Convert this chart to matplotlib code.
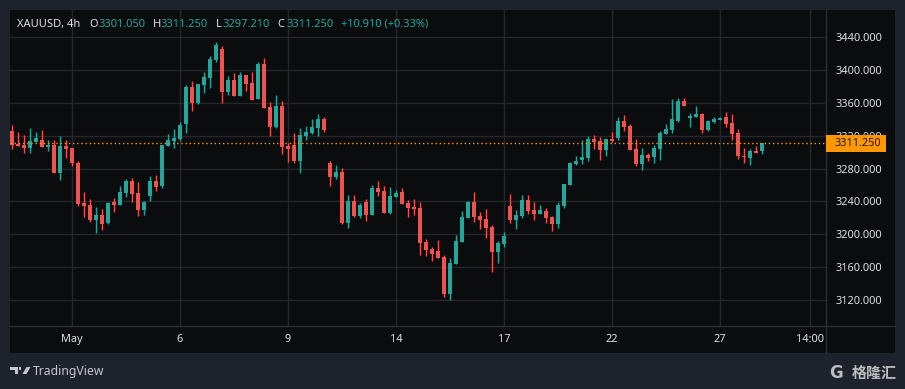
import matplotlib
matplotlib.use("Agg")
import matplotlib.pyplot as plt
from matplotlib.patches import Rectangle, Polygon
from matplotlib.lines import Line2D
from matplotlib.transforms import Bbox

plt.rcParams['font.family'] = ['Noto Sans', 'DejaVu Sans']

W, H = 905, 389

# XAUUSD 4h candles
opens = [3325.6, 3310.2, 3308.6, 3305.3, 3312.2, 3314.7, 3306.2, 3308.6, 3274.5, 3307.4,
         3304.9, 3286.7, 3238.0, 3235.6, 3217.4, 3223.4, 3213.7, 3239.2, 3235.6, 3250.2,
         3264.8, 3250.2, 3229.5, 3246.5, 3264.8, 3258.7, 3307.4, 3313.5, 3315.9, 3334.1,
         3379.2, 3359.7, 3381.6, 3390.1, 3412.0, 3425.4, 3373.1, 3387.7, 3368.2, 3393.8,
         3384.0, 3364.6, 3407.2, 3354.8, 3330.5, 3356.0, 3307.4, 3308.6, 3289.1, 3319.6,
         3323.2, 3329.3, 3340.2, 3286.7, 3269.7, 3275.7, 3213.7, 3240.5, 3222.2, 3239.2,
         3223.4, 3256.3, 3252.6, 3225.8, 3245.3, 3251.4, 3238.0, 3233.2, 3231.9, 3190.6,
         3182.0, 3179.6, 3172.3, 3127.3, 3163.8, 3190.6, 3219.8, 3239.2, 3222.2, 3218.6,
         3208.8, 3178.4, 3188.2, 3234.4, 3217.3, 3222.2, 3241.7, 3229.5, 3224.6, 3228.3,
         3221.0, 3212.5, 3234.4, 3259.9, 3285.5, 3290.3, 3292.8, 3315.9, 3313.5, 3302.5,
         3315.9, 3317.1, 3337.8, 3331.7, 3303.7, 3285.5, 3296.4, 3294.0, 3303.7, 3321.9,
         3326.8, 3337.8, 3362.1, 3341.4, 3342.7, 3346.3, 3326.8, 3336.6, 3339.0, 3342.7,
         3335.4, 3323.2, 3295.2, 3292.8, 3301.3, 3301.05]
highs = [3332.9, 3324.4, 3320.8, 3329.3, 3324.4, 3326.8, 3314.7, 3314.7, 3319.6, 3314.7,
         3304.9, 3289.1, 3251.4, 3242.9, 3233.2, 3230.7, 3239.2, 3244.1, 3258.7, 3267.2,
         3268.4, 3263.6, 3240.4, 3270.9, 3272.1, 3308.6, 3322.0, 3328.1, 3336.6, 3381.6,
         3386.5, 3382.8, 3397.4, 3416.9, 3433.9, 3429.0, 3392.5, 3396.2, 3397.4, 3393.8,
         3397.4, 3409.6, 3414.5, 3360.9, 3369.4, 3362.1, 3311.0, 3323.2, 3329.3, 3331.7,
         3340.2, 3346.3, 3342.6, 3289.1, 3284.3, 3280.6, 3247.8, 3247.8, 3238.0, 3242.9,
         3259.9, 3264.8, 3258.7, 3257.5, 3253.8, 3256.3, 3241.7, 3242.9, 3239.2, 3194.2,
         3184.5, 3193.0, 3174.7, 3171.1, 3199.1, 3228.3, 3240.5, 3251.4, 3227.1, 3230.7,
         3211.3, 3191.8, 3202.7, 3249.0, 3229.5, 3247.8, 3247.8, 3239.2, 3235.6, 3232.0,
         3222.2, 3239.2, 3261.1, 3287.9, 3295.2, 3314.7, 3319.6, 3320.8, 3318.3, 3315.9,
         3324.4, 3342.7, 3345.1, 3334.1, 3315.9, 3304.9, 3298.9, 3308.6, 3325.6, 3334.1,
         3364.6, 3365.8, 3365.8, 3347.5, 3356.0, 3347.5, 3339.0, 3342.7, 3342.7, 3348.7,
         3346.3, 3328.1, 3304.9, 3303.7, 3307.4, 3311.25]
lows = [3303.7, 3307.8, 3298.9, 3298.9, 3312.2, 3306.2, 3301.7, 3274.5, 3266.0, 3292.8,
        3283.0, 3234.4, 3221.0, 3214.9, 3201.5, 3205.2, 3212.5, 3227.1, 3235.6, 3245.3,
        3239.2, 3222.2, 3223.4, 3240.4, 3252.6, 3256.3, 3307.4, 3304.9, 3313.5, 3323.2,
        3350.0, 3358.5, 3371.9, 3377.9, 3409.6, 3359.7, 3369.4, 3368.2, 3368.2, 3374.3,
        3363.3, 3364.6, 3353.6, 3319.5, 3329.3, 3297.6, 3287.9, 3286.7, 3274.5, 3314.7,
        3322.0, 3319.6, 3324.4, 3258.7, 3267.2, 3212.5, 3207.6, 3221.0, 3219.8, 3216.1,
        3223.4, 3246.5, 3225.8, 3224.6, 3245.3, 3236.8, 3221.0, 3223.4, 3174.7, 3173.5,
        3167.4, 3171.1, 3123.6, 3120.0, 3163.8, 3190.6, 3219.8, 3214.9, 3206.4, 3195.4,
        3154.1, 3165.0, 3184.5, 3213.7, 3206.4, 3219.8, 3224.6, 3217.3, 3224.6, 3213.7,
        3204.0, 3207.6, 3231.9, 3259.9, 3284.3, 3285.5, 3289.1, 3303.7, 3290.3, 3295.2,
        3312.2, 3314.7, 3325.6, 3302.5, 3283.0, 3278.2, 3289.1, 3286.7, 3290.3, 3321.9,
        3323.2, 3336.6, 3356.0, 3330.5, 3342.7, 3323.2, 3325.6, 3335.4, 3339.0, 3330.5,
        3314.7, 3291.6, 3286.7, 3284.3, 3298.9, 3297.21]
closes = [3308.6, 3307.8, 3305.3, 3313.5, 3317.5, 3306.2, 3308.6, 3274.5, 3307.4, 3303.7,
          3286.7, 3236.8, 3234.4, 3217.4, 3223.4, 3212.5, 3238.0, 3235.6, 3251.4, 3264.8,
          3249.0, 3229.5, 3239.2, 3264.8, 3257.5, 3308.6, 3314.7, 3317.1, 3332.9, 3379.2,
          3359.7, 3382.8, 3391.3, 3413.2, 3430.3, 3373.1, 3387.7, 3368.2, 3393.8, 3382.8,
          3363.3, 3407.2, 3353.6, 3330.5, 3356.0, 3306.2, 3303.7, 3289.1, 3320.8, 3324.4,
          3330.5, 3340.2, 3326.8, 3269.7, 3275.7, 3213.7, 3240.5, 3222.2, 3235.6, 3223.4,
          3256.3, 3251.4, 3225.8, 3246.5, 3250.2, 3236.8, 3231.9, 3230.7, 3189.4, 3180.8,
          3176.0, 3171.1, 3127.3, 3165.0, 3191.8, 3221.0, 3239.2, 3221.0, 3217.3, 3207.6,
          3178.4, 3189.4, 3197.9, 3217.3, 3223.4, 3241.7, 3228.3, 3224.6, 3229.5, 3219.8,
          3212.5, 3235.6, 3261.1, 3286.7, 3289.1, 3294.0, 3315.9, 3312.2, 3302.5, 3315.9,
          3313.5, 3337.8, 3330.5, 3302.5, 3285.5, 3296.4, 3292.8, 3304.9, 3323.2, 3328.1,
          3340.2, 3362.1, 3356.0, 3343.9, 3346.3, 3326.8, 3337.8, 3340.2, 3341.4, 3334.1,
          3321.9, 3295.2, 3294.0, 3301.3, 3298.9, 3311.25]

price_ticks = [3120, 3160, 3200, 3240, 3280, 3320, 3360, 3400, 3440]
time_ticks = [10, 28, 46, 64, 82, 100, 118, 133]     # bar index of each time label
time_labels = ["May", "6", "9", "14", "17", "22", "27", "14:00"]
last_price = 3311.25
symbol = "XAUUSD, 4h"
ohlc_names = ["O", "H", "L", "C"]
ohlc_values = ["3301.050", "3311.250", "3297.210", "3311.250"]
change_text = "+10.910 (+0.33%)"

FRAME = "#1e222d"
BG = "#0b0c0e"
GRID = "#25272c"
SEP = "#2c2f37"
UP = "#26a69a"
DOWN = "#ef5350"
TXT = "#dcdee5"
ORANGE = "#ff9800"


def fx(px):
    return px / W


def fy(py):
    return 1 - py / H


fig = plt.figure(figsize=(W / 100, H / 100), dpi=100, facecolor=FRAME)

# dark panel behind chart + both axes
fig.patches.append(Rectangle((fx(10), fy(353)), fx(895) - fx(10), fy(10) - fy(353),
                             transform=fig.transFigure, facecolor=BG, edgecolor='none', zorder=-5))

ax = fig.add_axes([fx(10), fy(326), fx(826) - fx(10), fy(10) - fy(326)])
ax.set_facecolor(BG)

n = len(opens)
xs = list(range(n))
cols = [UP if c >= o else DOWN for o, c in zip(opens, closes)]
ax.vlines(xs, lows, highs, colors=cols, linewidth=1, zorder=3)
bottoms = [min(o, c) for o, c in zip(opens, closes)]
heights = [max(abs(c - o), 0.9) for o, c in zip(opens, closes)]
ax.bar(xs, heights, bottom=bottoms, width=0.8, color=cols, linewidth=0, zorder=4)

# last price dotted line
ax.axhline(last_price, color=ORANGE, linewidth=1, linestyle=(0, (1, 2)), zorder=5)

ax.set_xlim(-0.333, 135.667)
ax.set_ylim(3088.4, 3472.85)

ax.set_yticks(price_ticks)
ax.set_yticklabels([f"{p:.3f}" for p in price_ticks])
ax.yaxis.tick_right()
ax.set_xticks(time_ticks)
ax.set_xticklabels(time_labels)
ax.tick_params(axis='y', length=0, pad=7, labelsize=7.9, labelcolor=TXT)
ax.tick_params(axis='x', length=0, pad=6, labelsize=7.9, labelcolor=TXT)
ax.grid(True, color=GRID, linewidth=1)
ax.set_axisbelow(True)

# the 3320 label sits half under the orange price tag: show only its upper part
clip = Bbox.from_extents(820, H - 135, W, H)
for lab in ax.get_yticklabels():
    if lab.get_text() == "3320.000":
        lab.set_clip_box(clip)
        lab.set_clip_on(True)

for s in ['left', 'top']:
    ax.spines[s].set_visible(False)
for s in ['right', 'bottom']:
    ax.spines[s].set_color(SEP)
    ax.spines[s].set_linewidth(1)

# separators continued through the axis areas
fig.lines.append(Line2D([fx(826), fx(895)], [fy(326), fy(326)], transform=fig.transFigure,
                        color=SEP, linewidth=1))
fig.lines.append(Line2D([fx(826), fx(826)], [fy(326), fy(353)], transform=fig.transFigure,
                        color=SEP, linewidth=1))

# last price label
fig.patches.append(Rectangle((fx(826), fy(151.5)), fx(886) - fx(826), fy(135) - fy(151.5),
                             transform=fig.transFigure, facecolor=ORANGE, edgecolor='none', zorder=2))
fig.text(fx(835), fy(143.5), f"{last_price:.3f}", fontsize=7.9, color="#131722",
         ha='left', va='center', zorder=3)

# header legend
hy = fy(24.5)
fig.text(fx(17), hy, symbol, fontsize=8, color=TXT, fontweight='bold', va='center')
letter_x = [89, 152.5, 216, 277.5]
value_x = [98.5, 160.5, 222.5, 286]
for nm, val, lx, vx in zip(ohlc_names, ohlc_values, letter_x, value_x):
    fig.text(fx(lx), hy, nm, fontsize=8, color=TXT, va='center')
    fig.text(fx(vx), hy, val, fontsize=8, color=UP, va='center')
fig.text(fx(341), hy, change_text, fontsize=8, color=UP, va='center')

# TradingView logo
LOGO = "#c5c7cc"
fig.patches.append(Polygon([(fx(10), fy(367)), (fx(17.5), fy(367)), (fx(17.5), fy(374)),
                            (fx(14.5), fy(374)), (fx(14.5), fy(370)), (fx(10), fy(370))],
                           closed=True, transform=fig.transFigure, facecolor=LOGO, edgecolor='none'))
fig.patches.append(Rectangle((fx(18.5), fy(369.5)), fx(2.5), fy(367) - fy(369.5),
                             transform=fig.transFigure, facecolor=LOGO, edgecolor='none'))
fig.patches.append(Polygon([(fx(26.5), fy(367)), (fx(30.5), fy(367)), (fx(26.5), fy(374)),
                            (fx(22.5), fy(374))],
                           closed=True, transform=fig.transFigure, facecolor=LOGO, edgecolor='none'))
fig.text(fx(33), fy(371), "TradingView", fontsize=8.8, color=LOGO, va='center', ha='left')

# watermark
fig.text(fx(829), fy(372.5), "G", fontsize=12, color="#bcbcbc", fontweight='bold',
         family=['DejaVu Sans'], va='center', ha='left')
fig.text(fx(852), fy(372.5), "格隆汇", fontsize=10.8, color="#bcbcbc", fontweight='bold',
         family=['Noto Sans CJK SC', 'DejaVu Sans'], va='center', ha='left')

fig.savefig("out.png", dpi=100, facecolor=FRAME)
